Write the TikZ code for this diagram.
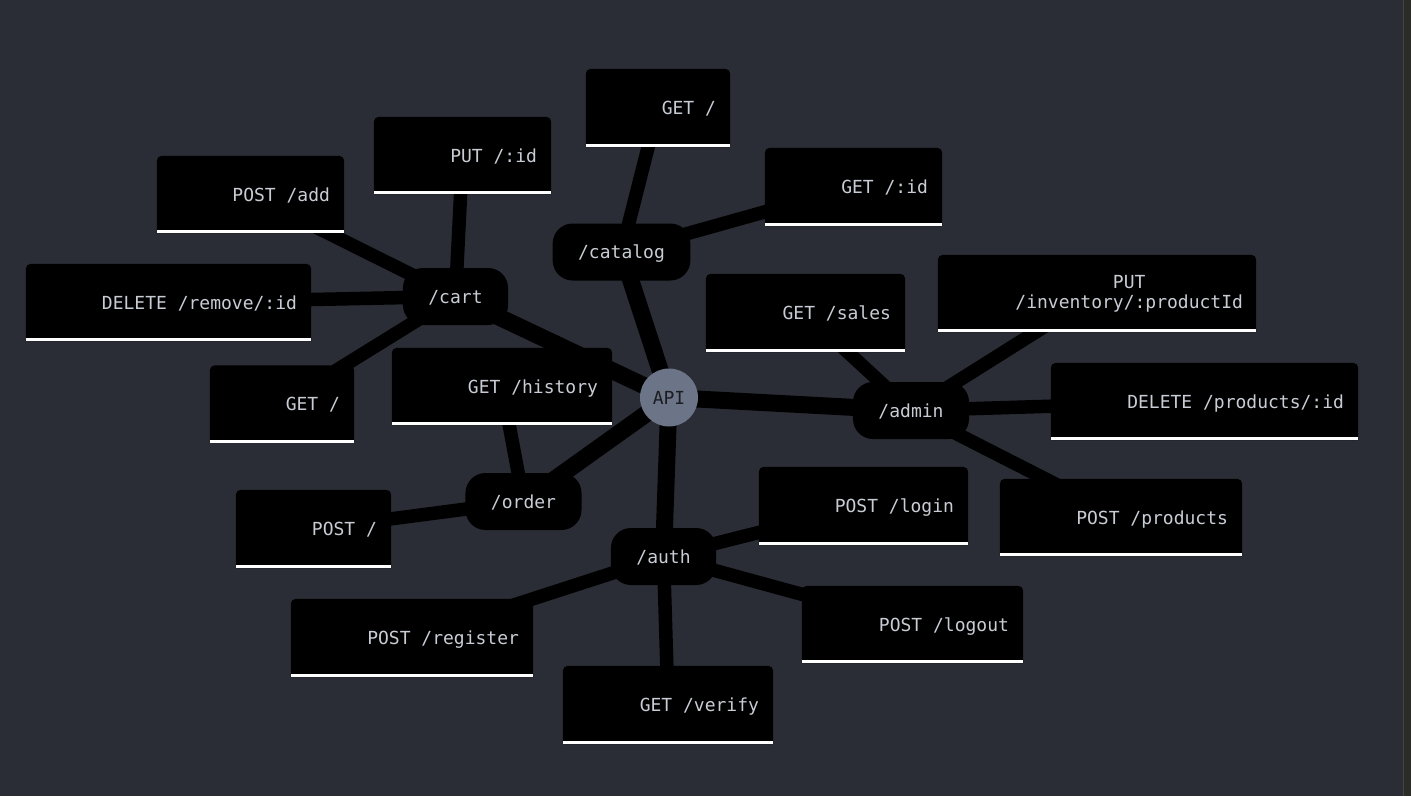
\documentclass[tikz,border=0pt]{standalone}
\usepackage{fontspec}
\setmonofont{DejaVu Sans Mono}
\usetikzlibrary{backgrounds}

\definecolor{canvas}{HTML}{2A2D35}
\definecolor{labelgray}{HTML}{C8CCD4}
\definecolor{apifill}{HTML}{6C7487}
\definecolor{apitext}{HTML}{1C1D21}
\definecolor{stripfill}{HTML}{2B2B27}
\definecolor{stripline}{HTML}{45463F}

% route leaf: black box with rounded top corners, white bar at the bottom,
% label set flush right inside it
\newcommand\routebox[6]{%
  \node[leafbox, minimum width=#4pt, minimum height=#5pt] (#1) at (#2,#3) {};
  \fill[black] (#1.south west) {[rounded corners=5pt] -- (#1.north west) -- (#1.north east)} -- (#1.south east) -- cycle;
  \fill[white] (#1.south west) rectangle ([yshift=3pt]#1.south east);
  \node[leaftext, text height=13pt, text depth=0pt, anchor=east] (#1-text) at ([xshift=-14pt]#1.east) {#6};
}

\begin{document}
\begin{tikzpicture}[x=1pt, y=-1pt,
  mono/.style={font=\fontsize{18pt}{20pt}\selectfont\ttfamily},
  leafbox/.style={rectangle, draw=none, inner sep=0pt},
  leaftext/.style={mono, text=labelgray, inner sep=0pt, align=center},
  catnode/.style={mono, text=labelgray, fill=black, rounded corners=20pt,
    minimum height=57pt, inner xsep=25.5pt, inner ysep=0pt,
    text height=13pt, text depth=0pt},
  apinode/.style={mono, circle, fill=apifill, text=apitext, minimum size=58pt,
    inner sep=0pt, text height=13pt, text depth=0pt},
  trunk/.style={line width=17pt, black},
  twig/.style={line width=13.5pt, black}]

\useasboundingbox (0,0) rectangle (1411,796);

\begin{scope}[on background layer]
  \fill[canvas] (0,0) rectangle (1411,796);
  \fill[stripfill] (1404,0) rectangle (1411,796);
  \fill[stripline] (1403,0) rectangle (1404,796);
\end{scope}

% hub and sections
\node[apinode] (api) at (669,397.5) {API};
\node[catnode] (catalog) at (621.5,252) {/catalog};
\node[catnode] (cart) at (455.5,296.5) {/cart};
\node[catnode] (admin) at (911,410.5) {/admin};
\node[catnode] (order) at (523.5,501.5) {/order};
\node[catnode] (auth) at (663.5,556.5) {/auth};

% catalog routes
\routebox{catget}{658}{108}{144}{78}{GET /}
\routebox{catid}{853.5}{187}{177}{78}{GET /:id}

% cart routes
\routebox{cartput}{462.5}{155.5}{177}{77}{PUT /:id}
\routebox{cartadd}{250.5}{194.5}{187}{77}{POST /add}
\routebox{cartdel}{168.5}{302.5}{285}{77}{DELETE /remove/:id}
\routebox{cartget}{282}{404}{144}{77}{GET /}

% order routes
\routebox{ordhist}{502}{386.5}{220}{77}{GET /history}
\routebox{ordpost}{313.5}{529}{155}{78}{POST /}

% admin routes
\routebox{admsales}{805.5}{313}{199}{78}{GET /sales}
\node[leafbox, minimum width=318pt, minimum height=77pt] (adminv) at (1097,293.5) {};
\fill[black] (adminv.south west) {[rounded corners=5pt] -- (adminv.north west) -- (adminv.north east)} -- (adminv.south east) -- cycle;
\fill[white] (adminv.south west) rectangle ([yshift=3pt]adminv.south east);
\node[leaftext, anchor=east] (adminv-text) at ([xshift=-13pt]adminv.east) {PUT\\/inventory/:productId};
\routebox{admdel}{1204.5}{401.5}{307}{77}{DELETE /products/:id}
\routebox{admpost}{1121}{517.5}{242}{77}{POST /products}

% auth routes
\routebox{authlogin}{863.5}{506}{209}{78}{POST /login}
\routebox{authlogout}{912.5}{624.5}{221}{77}{POST /logout}
\routebox{authreg}{412}{638}{242}{78}{POST /register}
\routebox{authver}{668}{705}{210}{78}{GET /verify}

% connectors, kept behind every box
\begin{scope}[on background layer]
  \foreach \s in {catalog,cart,admin,order,auth}
    \draw[trunk] (api.center) -- (\s.center);
  \foreach \s/\t in {catalog/catget, catalog/catid,
                     cart/cartput, cart/cartadd, cart/cartdel, cart/cartget,
                     order/ordhist, order/ordpost,
                     admin/admsales, admin/adminv, admin/admdel, admin/admpost,
                     auth/authlogin, auth/authlogout, auth/authreg, auth/authver}
    \draw[twig] (\s.center) -- (\t.center);
\end{scope}
\end{tikzpicture}
\end{document}
